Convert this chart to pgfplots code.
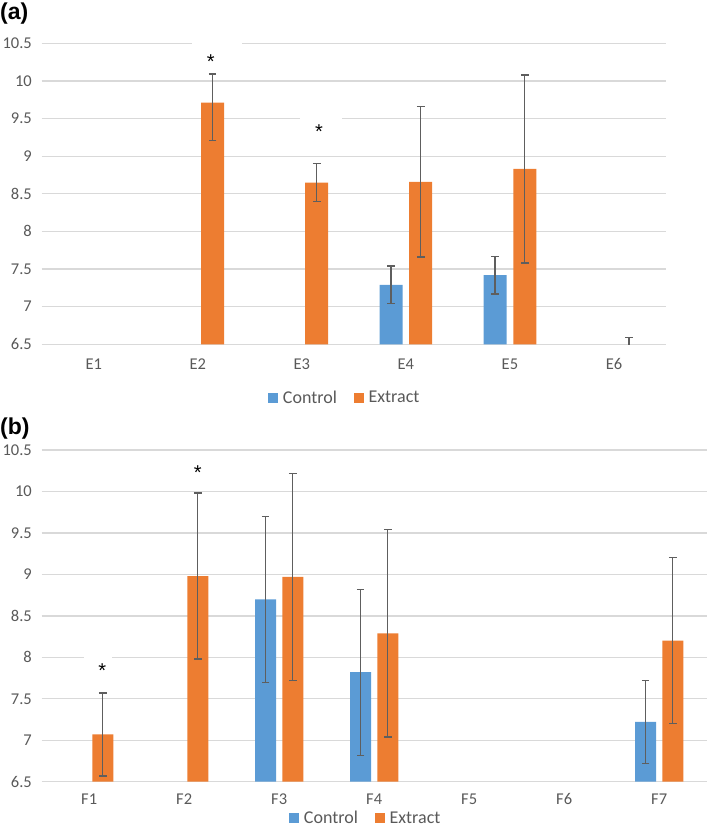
\documentclass[border=0pt]{standalone}
\usepackage{fontspec}
\setmainfont{Carlito}
\newfontfamily\labelfont{Liberation Sans}
\usepackage{pgfplots}
\pgfplotsset{compat=1.18}
\definecolor{cblue}{HTML}{5B9BD5}
\definecolor{corange}{HTML}{ED7D31}
\definecolor{gridc}{HTML}{D9D9D9}
\definecolor{txt}{HTML}{595959}
\definecolor{errc}{HTML}{5E5E5E}

\pgfplotsset{
  common/.style={
    scale only axis,
    clip mode=individual,
    ymin=6.5, ymax=10.5,
    ytick={6.5,7,7.5,8,8.5,9,9.5,10,10.5},
    ymajorgrids,
    grid style={draw=gridc, line width=1.3pt},
    axis line style={draw=none},
    major tick length=0pt,
    tick label style={font=\fontsize{16.5}{18}\selectfont, text=txt},
    yticklabel style={inner sep=0pt, xshift=-9.7pt},
    /pgf/number format/assume math mode=true,
    legend columns=2,
    legend style={draw=none, fill=none, inner sep=0pt,
      font=\fontsize{18}{20}\selectfont, text=txt,
      nodes={inner sep=0pt},
      /tikz/every odd column/.append style={column sep=5pt},
      /tikz/every even column/.append style={column sep=17pt}},
  },
  sq/.style={legend image code/.code={\fill[##1] (0pt,-4.8pt) rectangle (9.6pt,4.8pt);}},
  errs/.style={
    draw=none, mark=none, forget plot,
    error bars/.cd, y dir=both, y explicit,
    error bar style={color=errc, line width=1.3pt},
    error mark options={color=errc, line width=1.3pt, mark size=3.8pt, rotate=90},
  },
}
\tikzset{astx/.style={font=\labelfont\fontsize{20}{22}\selectfont, inner sep=0pt, anchor=base, yshift=-11.5pt}}

\begin{document}
\begin{tikzpicture}
\path[use as bounding box] (0pt,0pt) rectangle (709pt,830pt);

% ---------------- panel (a)
\begin{axis}[common,
  at={(41.7pt,485.7pt)}, anchor=south west,
  width=624.3pt, height=301pt,
  xmin=0.5, xmax=6.5,
  xtick={1,2,3,4,5,6},
  xticklabels={E1,E2,E3,E4,E5,E6},
  xticklabel style={inner sep=0pt, yshift=-14pt},
  legend style={at={(0.484,-0.178)}, anchor=center},
]
\addplot[ybar, bar width=23pt, bar shift=-14.85pt, fill=cblue, draw=none, sq]
  coordinates {(4,7.29) (5,7.42)};
\addplot[ybar, bar width=23pt, bar shift=14.85pt, fill=corange, draw=none, sq]
  coordinates {(2,9.71) (3,8.65) (4,8.66) (5,8.83)};
\legend{Control,Extract}
% error bars (Control at x-0.143, Extract at x+0.143)
\addplot[errs] coordinates {(3.857,7.29) +- (0,0.25) (4.857,7.42) +- (0,0.25)};
\addplot[errs] coordinates {(2.143,9.71) += (0,0.38) -= (0,0.50)
               (3.143,8.65) +- (0,0.25)
               (4.143,8.66) +- (0,1.0)
               (5.143,8.83) +- (0,1.25)
               (6.143,6.5) +- (0,0.09)};
\node[fill=white, minimum width=50pt, minimum height=30pt, inner sep=0pt] at (axis cs:2.186,10.345) {};
\node[fill=white, minimum width=42pt, minimum height=30pt, inner sep=0pt] at (axis cs:3.186,9.388) {};
\node[astx] at (axis cs:2.125,10.32) {*};
\node[astx] at (axis cs:3.166,9.392) {*};
\end{axis}

% ---------------- panel (b)
\begin{axis}[common,
  at={(41.7pt,48.3pt)}, anchor=south west,
  width=665pt, height=331.7pt,
  xmin=0.5, xmax=7.5,
  xtick={1,2,3,4,5,6,7},
  xticklabels={F1,F2,F3,F4,F5,F6,F7},
  xticklabel style={inner sep=0pt, yshift=-11.6pt},
  legend style={at={(0.486,-0.1094)}, anchor=center},
]
\addplot[ybar, bar width=21pt, bar shift=-13.6pt, fill=cblue, draw=none, sq]
  coordinates {(3,8.70) (4,7.82) (7,7.22)};
\addplot[ybar, bar width=21pt, bar shift=13.6pt, fill=corange, draw=none, sq]
  coordinates {(1,7.07) (2,8.98) (3,8.97) (4,8.29) (7,8.20)};
\legend{Control,Extract}
\addplot[errs] coordinates {(2.857,8.70) +- (0,1.0) (3.857,7.82) +- (0,1.0) (6.857,7.22) +- (0,0.5)};
\addplot[errs] coordinates {(1.143,7.07) +- (0,0.5)
               (2.143,8.98) +- (0,1.0)
               (3.143,8.97) +- (0,1.25)
               (4.143,8.29) +- (0,1.25)
               (7.143,8.20) +- (0,1.0)};
\node[fill=white, minimum width=28pt, minimum height=24pt, inner sep=0pt] at (axis cs:1.093,7.919) {};
\node[astx] at (axis cs:1.138,7.898) {*};
\node[astx] at (axis cs:2.142,10.286) {*};
\end{axis}

\node[anchor=base west, inner sep=0pt, font=\labelfont\bfseries\fontsize{23}{26}\selectfont] at (0pt,810pt) {(a)};
\node[anchor=base west, inner sep=0pt, font=\labelfont\bfseries\fontsize{23}{26}\selectfont] at (0pt,395pt) {(b)};
\end{tikzpicture}
\end{document}
